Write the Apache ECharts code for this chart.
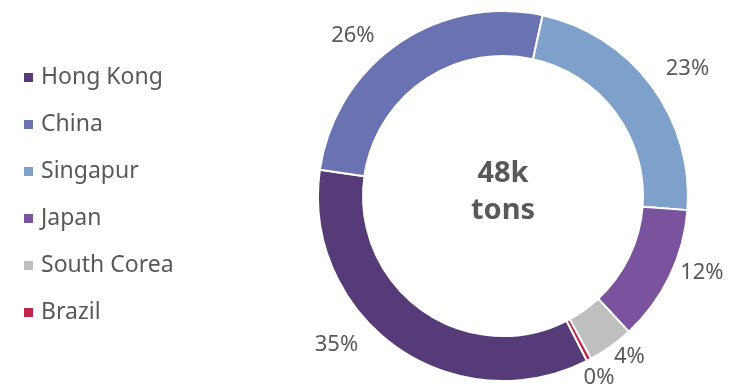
<!DOCTYPE html>
<html><head><meta charset="utf-8">
<script src="https://cdn.jsdelivr.net/npm/echarts@6/dist/echarts.min.js"></script>
<style>html,body{margin:0;padding:0;background:#fff}#c{width:735px;height:387px}</style>
</head><body><div id="c"></div>
<script>
const categories = ['Hong Kong', 'China', 'Singapur', 'Japan', 'South Corea', 'Brazil'];
const shares = [34.8, 26.2, 22.8, 11.9, 4.0, 0.4];
const centerLines = ['48k', 'tons'];

// styling only: per-label nudges (px) to mimic the reference's label placement
const labelNudge = [[-24, -13], [-10, 3], [-2, -9], [-7, -10], [-10, -1], [-17, 6]];
const colors = ['#553C78', '#6A72B2', '#7EA1CC', '#7B529D', '#BFBFBF', '#C0264B'];
const txt = '#595959';
const font = "'Noto Sans', sans-serif";

const chart = echarts.init(document.getElementById('c'), null, {renderer: 'canvas'});
chart.setOption({
  animation: false,
  color: colors,
  legend: {
    orient: 'vertical', left: 17, top: 59,
    icon: 'rect', itemWidth: 11, itemHeight: 11, itemGap: 20,
    textStyle: {color: txt, fontSize: 23, fontFamily: font, lineHeight: 27, padding: [0, 0, 0, 2]},
    data: categories
  },
  graphic: [{
    type: 'text',
    x: 503, y: 192,
    style: {
      text: centerLines.join('\n'), align: 'center', verticalAlign: 'middle',
      fill: txt, font: "bold 29px 'Noto Sans', sans-serif", lineHeight: 37
    }
  }],
  series: [{
    type: 'pie',
    center: [503, 196],
    radius: [140, 185],
    startAngle: -63,
    clockwise: true,
    avoidLabelOverlap: false,
    itemStyle: {borderColor: '#fff', borderWidth: 2},
    label: {
      show: true, position: 'outside', color: txt, fontSize: 22, fontFamily: font,
      formatter: p => Math.round(p.percent) + '%'
    },
    labelLine: {show: false, length: 14, length2: 0},
    labelLayout: p => ({dx: labelNudge[p.dataIndex][0], dy: labelNudge[p.dataIndex][1], hideOverlap: false}),
    emphasis: {disabled: true},
    data: categories.map((n, i) => ({name: n, value: shares[i]}))
  }]
});
</script></body></html>
